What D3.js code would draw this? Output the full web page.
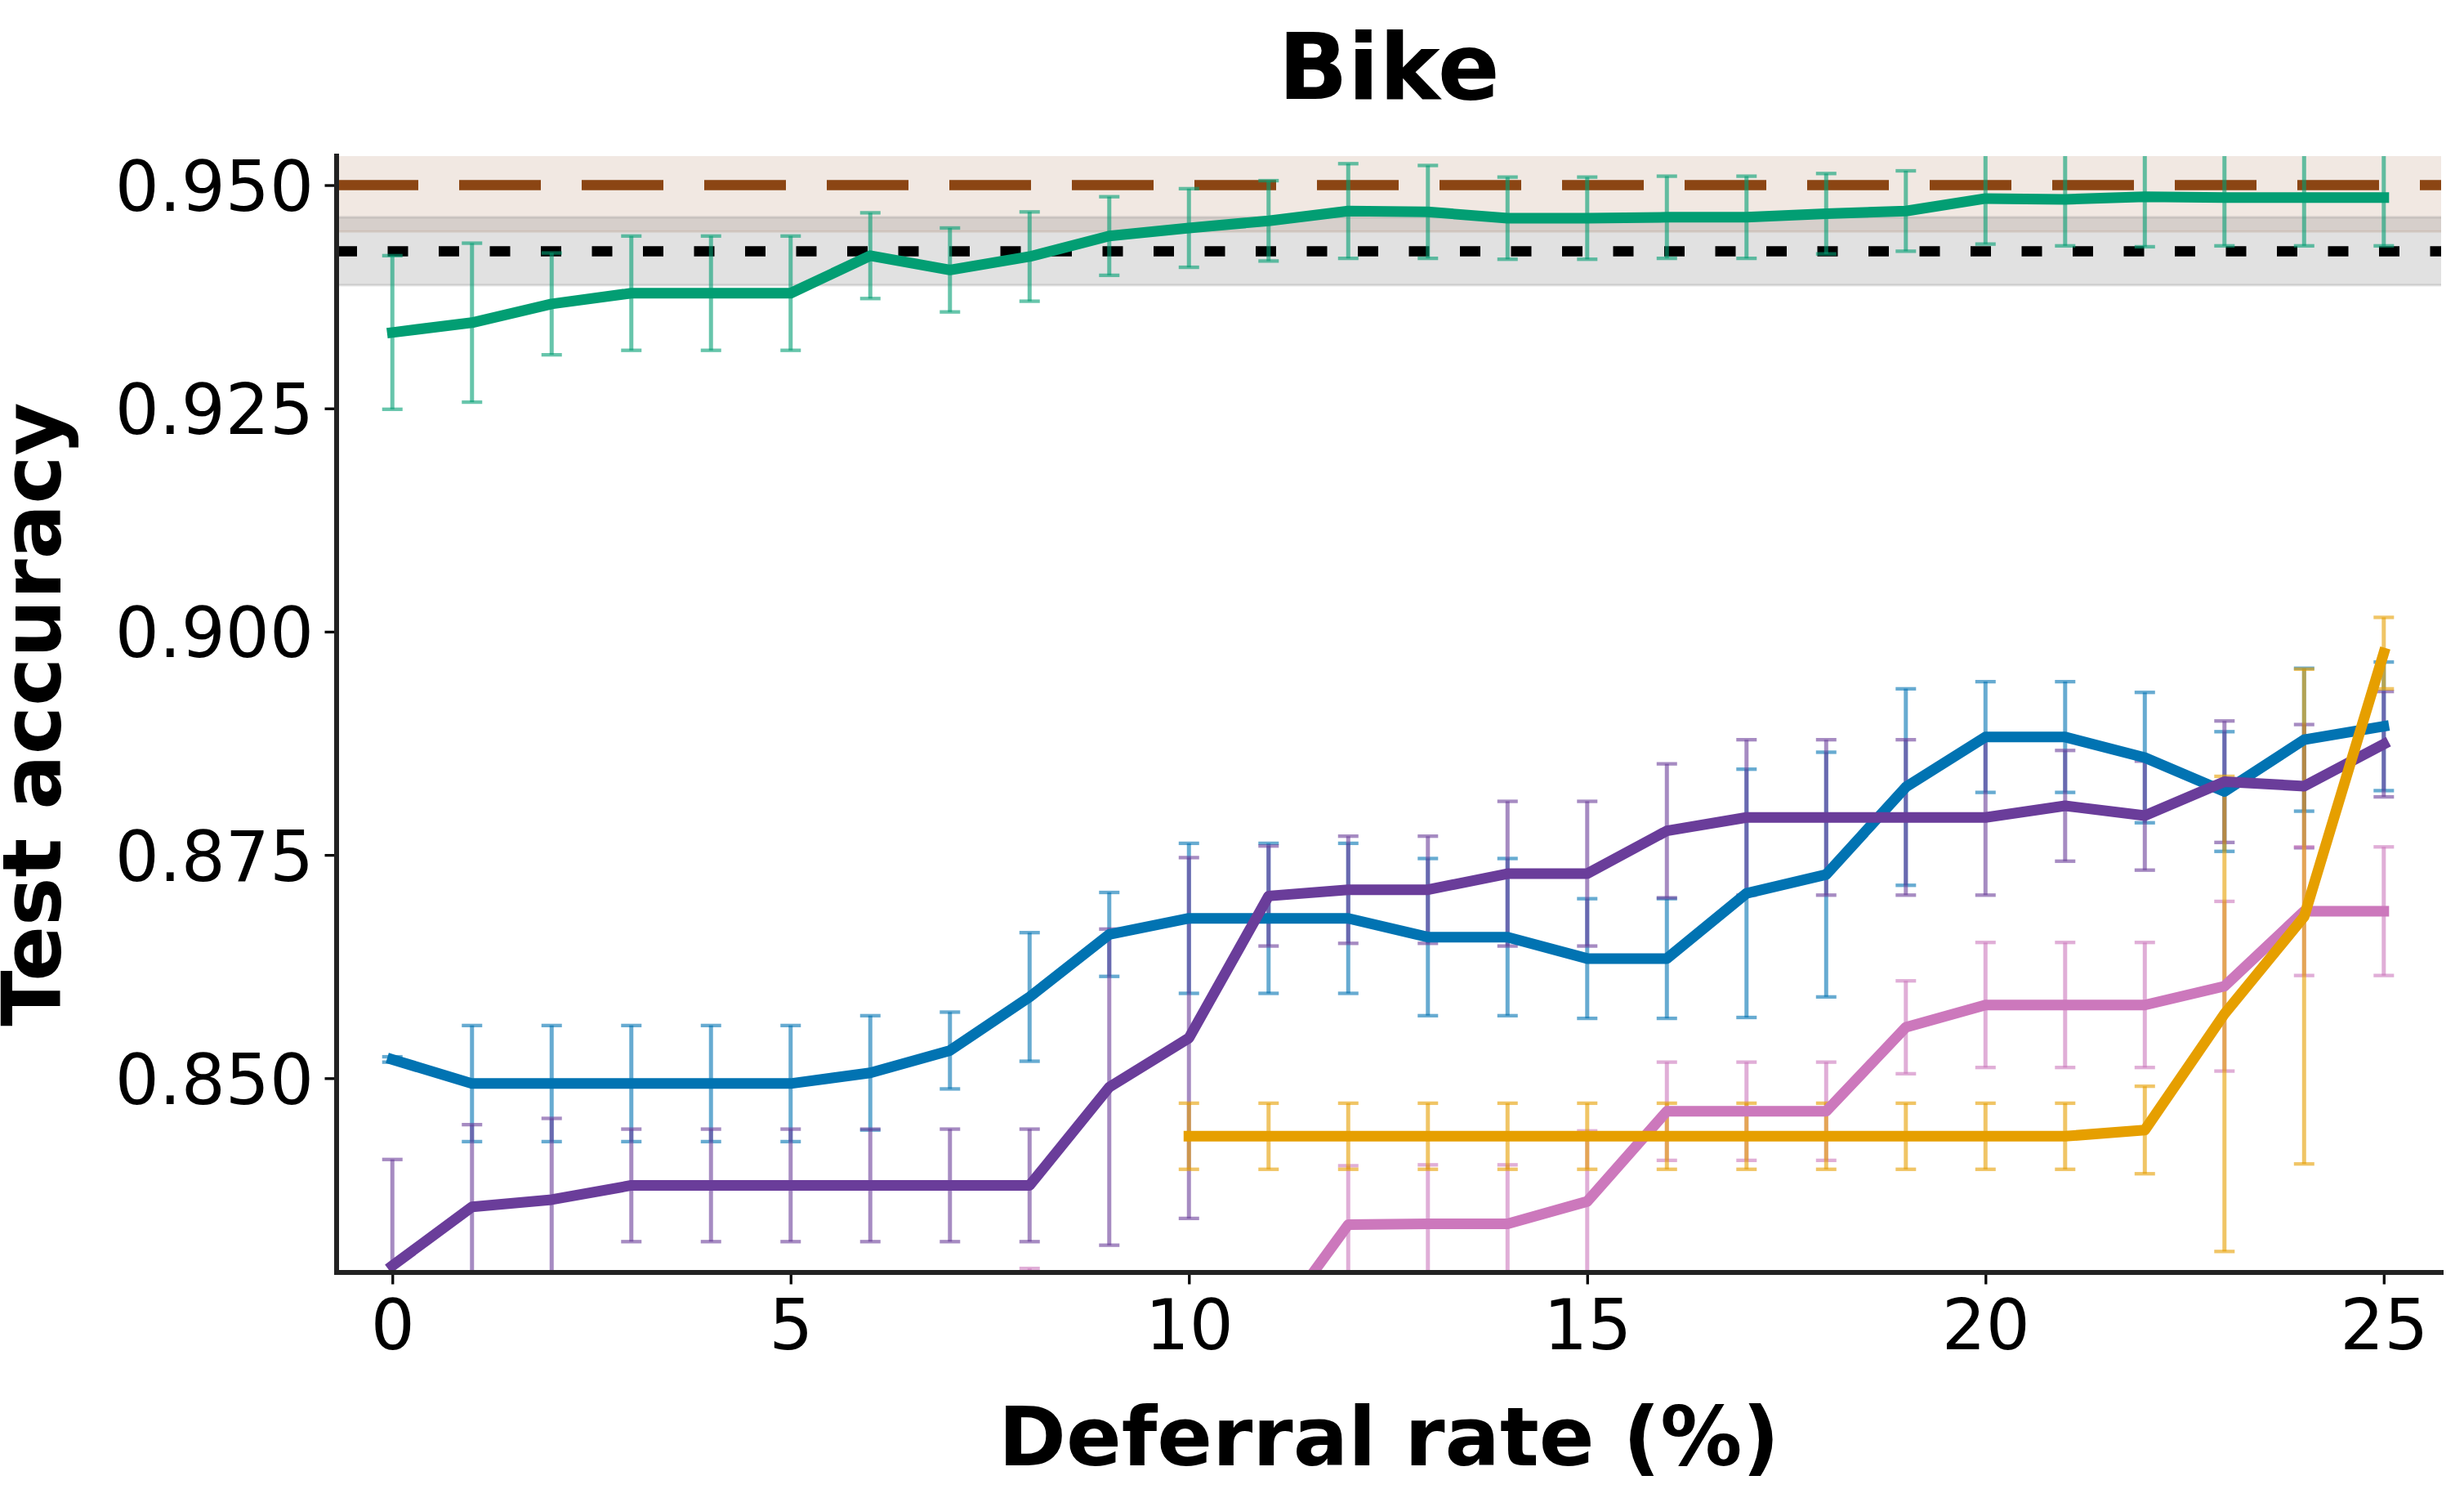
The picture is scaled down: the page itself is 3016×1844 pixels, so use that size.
<!DOCTYPE html>
<html>
<head>
<meta charset="utf-8">
<script src="https://cdnjs.cloudflare.com/ajax/libs/d3/7.8.5/d3.min.js"></script>
<style>
  html, body { margin: 0; padding: 0; background: #fff; }
  svg { display: block; font-family: "DejaVu Sans", sans-serif; }
</style>
</head>
<body>
<div id="chart"></div>
<script>
// Bike - test accuracy vs deferral rate

const deferral = [0, 1, 2, 3, 4, 5, 6, 7, 8, 9, 10, 11, 12, 13, 14, 15, 16, 17, 18, 19, 20, 21, 22, 23, 24, 25];

const greenMean = [0.9335, 0.9346, 0.9367, 0.9379, 0.9379, 0.9379, 0.9421, 0.9405, 0.9420, 0.9443, 0.9452, 0.9460, 0.9471, 0.9470, 0.9463, 0.9463, 0.9464, 0.9464, 0.9468, 0.9471, 0.9485, 0.9484, 0.9487, 0.9486, 0.9486, 0.9486];
const greenStd  = [0.0086, 0.0089, 0.0057, 0.0064, 0.0064, 0.0064, 0.0048, 0.0047, 0.0050, 0.0044, 0.0044, 0.0045, 0.0053, 0.0052, 0.0046, 0.0046, 0.0046, 0.0046, 0.0045, 0.0045, 0.0051, 0.0052, 0.0056, 0.0054, 0.0054, 0.0054];

const blueMean = [0.8521, 0.8494, 0.8494, 0.8494, 0.8494, 0.8494, 0.8506, 0.8531, 0.8591, 0.8661, 0.8679, 0.8679, 0.8679, 0.8658, 0.8658, 0.8634, 0.8634, 0.8707, 0.8728, 0.8826, 0.8882, 0.8882, 0.8859, 0.8821, 0.8879, 0.8894];
const blueStd  = [0.0003, 0.0065, 0.0065, 0.0065, 0.0065, 0.0065, 0.0064, 0.0043, 0.0072, 0.0047, 0.0084, 0.0084, 0.0084, 0.0088, 0.0088, 0.0067, 0.0067, 0.0139, 0.0137, 0.0110, 0.0062, 0.0062, 0.0073, 0.0067, 0.0080, 0.0072];

const purpleMean = [0.8290, 0.8356, 0.8364, 0.8380, 0.8380, 0.8380, 0.8380, 0.8380, 0.8380, 0.8490, 0.8545, 0.8704, 0.8711, 0.8711, 0.8729, 0.8729, 0.8777, 0.8792, 0.8792, 0.8792, 0.8792, 0.8805, 0.8794, 0.8832, 0.8827, 0.8874];
const purpleStd  = [0.0119, 0.0092, 0.0091, 0.0063, 0.0063, 0.0063, 0.0063, 0.0063, 0.0063, 0.0177, 0.0202, 0.0056, 0.0060, 0.0060, 0.0081, 0.0081, 0.0075, 0.0087, 0.0087, 0.0087, 0.0087, 0.0062, 0.0061, 0.0068, 0.0069, 0.0059];

const pinkMean = [null, null, null, null, null, null, null, null, 0.8214, 0.8214, 0.8214, 0.8214, 0.8336, 0.8337, 0.8337, 0.8362, 0.8463, 0.8463, 0.8463, 0.8557, 0.8582, 0.8582, 0.8582, 0.8603, 0.8687, 0.8687];
const pinkStd  = [null, null, null, null, null, null, null, null, 0.0073, 0.0050, 0.0050, 0.0050, 0.0066, 0.0066, 0.0066, 0.0079, 0.0055, 0.0055, 0.0055, 0.0052, 0.0070, 0.0070, 0.0070, 0.0095, 0.0072, 0.0072];

const orangeMean = [null, null, null, null, null, null, null, null, null, null, 0.8435, 0.8435, 0.8435, 0.8435, 0.8435, 0.8435, 0.8435, 0.8435, 0.8435, 0.8435, 0.8435, 0.8435, 0.8442, 0.8572, 0.8681, 0.8976];
const orangeStd  = [null, null, null, null, null, null, null, null, null, null, 0.0037, 0.0037, 0.0037, 0.0037, 0.0037, 0.0037, 0.0037, 0.0037, 0.0037, 0.0037, 0.0037, 0.0037, 0.0049, 0.0266, 0.0277, 0.0040];

// horizontal reference lines (mean, std)
const refBrown = [0.9500, 0.0052];
const refBlack = [0.9426, 0.0038];

const xTicks = [0, 5, 10, 15, 20, 25];
const yTicks = [0.850, 0.875, 0.900, 0.925, 0.950];

const series = [
    { mean: greenMean,  std: greenStd,  color: '#029E73' },
    { mean: blueMean,   std: blueStd,   color: '#0173B2' },
    { mean: purpleMean, std: purpleStd, color: '#6A3D9A' },
    { mean: pinkMean,   std: pinkStd,   color: '#CC78BC' },
    { mean: orangeMean, std: orangeStd, color: '#E69F00' }
];

const W = 3016, H = 1844;
const plot = { left: 412, right: 2988, top: 191, bottom: 1557 };

const x = d3.scaleLinear().domain([-0.7, 25.72]).range([plot.left, plot.right]);
const y = d3.scaleLinear().domain([0.82825, 0.95325]).range([plot.bottom, plot.top]);

const svg = d3.select('#chart').append('svg')
    .attr('width', W)
    .attr('height', H)
    .attr('viewBox', `0 0 ${W} ${H}`);

svg.append('rect').attr('width', W).attr('height', H).attr('fill', '#fff');

svg.append('defs').append('clipPath').attr('id', 'plot-clip')
  .append('rect')
    .attr('x', plot.left).attr('y', plot.top)
    .attr('width', plot.right - plot.left).attr('height', plot.bottom - plot.top);

const g = svg.append('g').attr('clip-path', 'url(#plot-clip)');

// shaded std bands of the references
[[refBrown, '#8B4513', 0.12], [refBlack, '#808080', 0.24]].forEach(([r, c, a]) => {
    g.append('rect')
        .attr('x', plot.left - 10)
        .attr('width', plot.right - plot.left + 20)
        .attr('y', y(r[0] + r[1]))
        .attr('height', y(r[0] - r[1]) - y(r[0] + r[1]))
        .attr('fill', c).attr('fill-opacity', a)
        .attr('stroke', c).attr('stroke-opacity', a).attr('stroke-width', 3);
});

// reference lines
g.append('line')
    .attr('x1', plot.left).attr('x2', plot.right)
    .attr('y1', y(refBrown[0])).attr('y2', y(refBrown[0]))
    .attr('stroke', '#8B4513').attr('stroke-width', 12.5)
    .attr('stroke-dasharray', '100 50');

g.append('line')
    .attr('x1', plot.left).attr('x2', plot.right)
    .attr('y1', y(refBlack[0])).attr('y2', y(refBlack[0]))
    .attr('stroke', '#000').attr('stroke-width', 12.5)
    .attr('stroke-dasharray', '25 37.5');

// error bars (below all lines)
const capHalf = 12.5;
series.forEach(s => {
    const pts = deferral.map((d, i) => ({ x: d, m: s.mean[i], e: s.std[i] }))
        .filter(p => p.m != null);
    const eb = g.append('g').attr('stroke', s.color).attr('stroke-opacity', 0.6);
    pts.forEach(p => {
        const px = x(p.x), y0 = y(p.m - p.e), y1 = y(p.m + p.e);
        eb.append('line').attr('x1', px).attr('x2', px).attr('y1', y0).attr('y2', y1)
            .attr('stroke-width', 5);
        [y0, y1].forEach(cy => {
            eb.append('line').attr('x1', px - capHalf).attr('x2', px + capHalf)
                .attr('y1', cy).attr('y2', cy).attr('stroke-width', 4.3);
        });
    });
});

// mean lines
const line = d3.line()
    .defined(d => d.m != null)
    .x(d => x(d.x))
    .y(d => y(d.m));

series.forEach(s => {
    const pts = deferral.map((d, i) => ({ x: d, m: s.mean[i] }));
    g.append('path')
        .datum(pts)
        .attr('d', line)
        .attr('fill', 'none')
        .attr('stroke', s.color)
        .attr('stroke-width', 13)
        .attr('stroke-linejoin', 'round')
        .attr('stroke-linecap', 'square');
});

// axes
const yAxis = svg.append('g')
    .attr('transform', `translate(${plot.left},0)`)
    .call(d3.axisLeft(y).tickValues(yTicks).tickFormat(d3.format('.3f')).tickSize(14.5).tickPadding(13.5));
yAxis.select('.domain').remove();
yAxis.selectAll('.tick line').attr('stroke', '#000').attr('stroke-width', 3.3);
yAxis.selectAll('.tick text')
    .attr('font-size', 85).attr('font-family', '"DejaVu Sans", sans-serif')
    .attr('fill', '#000').attr('dy', '0.365em');

const xAxis = svg.append('g')
    .attr('transform', `translate(0,${plot.bottom})`)
    .call(d3.axisBottom(x).tickValues(xTicks).tickFormat(d3.format('d')).tickSize(14.5));
xAxis.select('.domain').remove();
xAxis.selectAll('.tick line').attr('stroke', '#000').attr('stroke-width', 3.3);
xAxis.selectAll('.tick text')
    .attr('font-size', 85).attr('font-family', '"DejaVu Sans", sans-serif')
    .attr('fill', '#000').attr('y', 94).attr('dy', 0);

// spines
svg.append('line')
    .attr('x1', plot.left).attr('x2', plot.left)
    .attr('y1', plot.top).attr('y2', plot.bottom)
    .attr('stroke', '#222').attr('stroke-width', 6).attr('stroke-linecap', 'square');
svg.append('line')
    .attr('x1', plot.left).attr('x2', plot.right)
    .attr('y1', plot.bottom).attr('y2', plot.bottom)
    .attr('stroke', '#222').attr('stroke-width', 6).attr('stroke-linecap', 'square');

// labels
const cx = (plot.left + plot.right) / 2;
svg.append('text')
    .attr('x', cx).attr('y', 121)
    .attr('text-anchor', 'middle')
    .attr('font-size', 112).attr('font-weight', 'bold')
    .text('Bike');

svg.append('text')
    .attr('x', cx).attr('y', 1793)
    .attr('text-anchor', 'middle')
    .attr('font-size', 100).attr('font-weight', 'bold')
    .text('Deferral rate (%)');

svg.append('text')
    .attr('transform', `translate(74,${(plot.top + plot.bottom) / 2}) rotate(-90)`)
    .attr('text-anchor', 'middle')
    .attr('font-size', 100).attr('font-weight', 'bold')
    .text('Test accuracy');
</script>
</body>
</html>
